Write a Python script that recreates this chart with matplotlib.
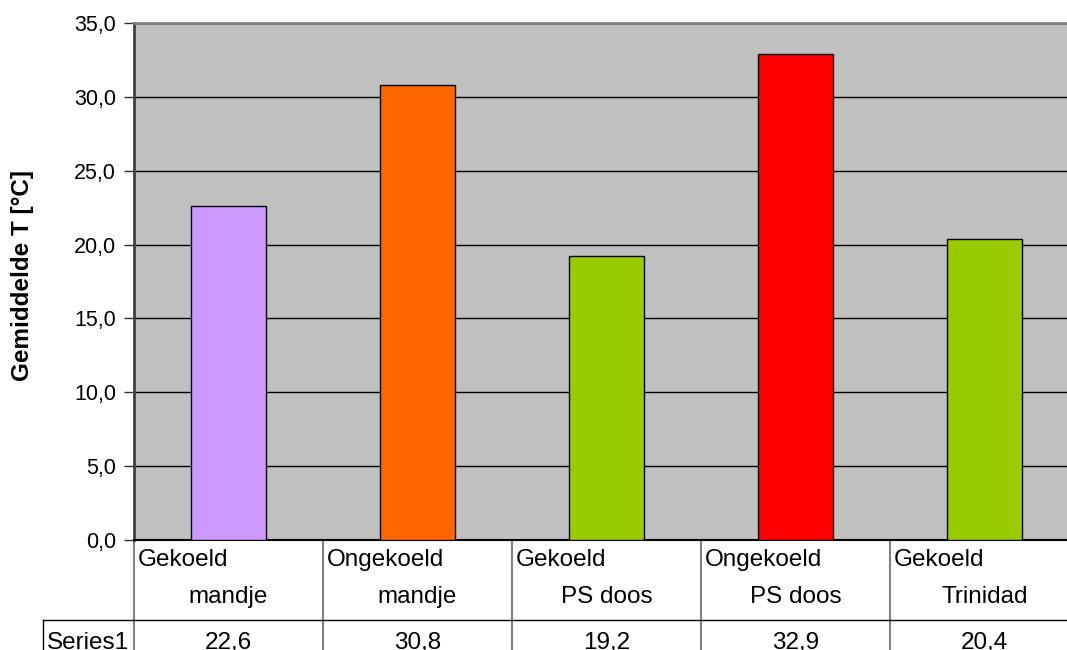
import matplotlib.pyplot as plt
from matplotlib.ticker import FuncFormatter, MultipleLocator
from matplotlib.transforms import blended_transform_factory

plt.rcParams['font.family'] = ['Liberation Sans', 'DejaVu Sans']

# Average temperature per storage method
line1 = ["Gekoeld", "Ongekoeld", "Gekoeld", "Ongekoeld", "Gekoeld"]
line2 = ["mandje", "mandje", "PS doos", "PS doos", "Trinidad"]
values = [22.6, 30.8, 19.2, 32.9, 20.4]
colors = ["#CC99FF", "#FF6600", "#99CC00", "#FF0000", "#99CC00"]
series_name = "Series1"

W, H = 1067, 650
fig = plt.figure(figsize=(W / 100, H / 100), dpi=100)

# plot area: left 134 px, top 23 px, bottom 540 px, five 189 px columns
ax = fig.add_axes([134 / W, (H - 540) / H, 945 / W, 517 / H])
ax.set_facecolor("#C0C0C0")

x = range(len(values))
ax.bar(x, values, width=0.4, color=colors, edgecolor="black", linewidth=1, zorder=3)

ax.set_xlim(-0.5, len(values) - 0.5)
ax.set_ylim(0, 35)
ax.yaxis.set_major_locator(MultipleLocator(5))
ax.yaxis.set_major_formatter(FuncFormatter(lambda v, p: f"{v:.1f}".replace(".", ",")))
ax.grid(axis="y", color="black", linewidth=1, zorder=1)
ax.set_axisbelow(True)

ax.set_xticks([])
ax.tick_params(axis="y", direction="out", length=7, width=1, color="#303030",
               labelsize=15.5, pad=6)
ax.spines["left"].set_color("#404040")
ax.spines["left"].set_linewidth(2)
ax.spines["top"].set_color("#808080")
ax.spines["top"].set_linewidth(2)
ax.spines["right"].set_visible(False)
ax.spines["bottom"].set_color("black")
ax.spines["bottom"].set_linewidth(1.5)

fig.text(23 / W, 1 - 275 / H, "Gemiddelde T [°C]", rotation=90, fontsize=17.5,
         fontweight="bold", ha="center", va="center")

# data table under the plot
tr = blended_transform_factory(ax.transData, ax.transAxes)
px = 1 / 517  # one pixel in axes fraction (vertical)
row1_bottom = -80 * px
row2_bottom = -140 * px

for i in range(len(values) + 1):
    xe = i - 0.5
    ax.plot([xe, xe], [0, row2_bottom], transform=tr, color="#808080",
            linewidth=1.5, clip_on=False)

# line under the category row, including the series name cell
left_px = 43
x_left = (left_px - 134) / 189 - 0.5
ax.plot([x_left, len(values) - 0.5], [row1_bottom, row1_bottom], transform=tr,
        color="black", linewidth=1, clip_on=False)
ax.plot([x_left, x_left], [row1_bottom, row2_bottom], transform=tr,
        color="black", linewidth=1, clip_on=False)

fs = 17.5
for i in range(len(values)):
    ax.text(i - 0.5 + 4 / 189, -20 * px, line1[i], transform=tr, fontsize=fs,
            ha="left", va="center")
    ax.text(i, -57 * px, line2[i], transform=tr, fontsize=fs,
            ha="center", va="center")
    ax.text(i, -103 * px, f"{values[i]:.1f}".replace(".", ","), transform=tr,
            fontsize=fs, ha="center", va="center")

ax.text(x_left + 4 / 189, -103 * px, series_name, transform=tr, fontsize=fs,
        ha="left", va="center")

fig.savefig("out.png", dpi=100)
